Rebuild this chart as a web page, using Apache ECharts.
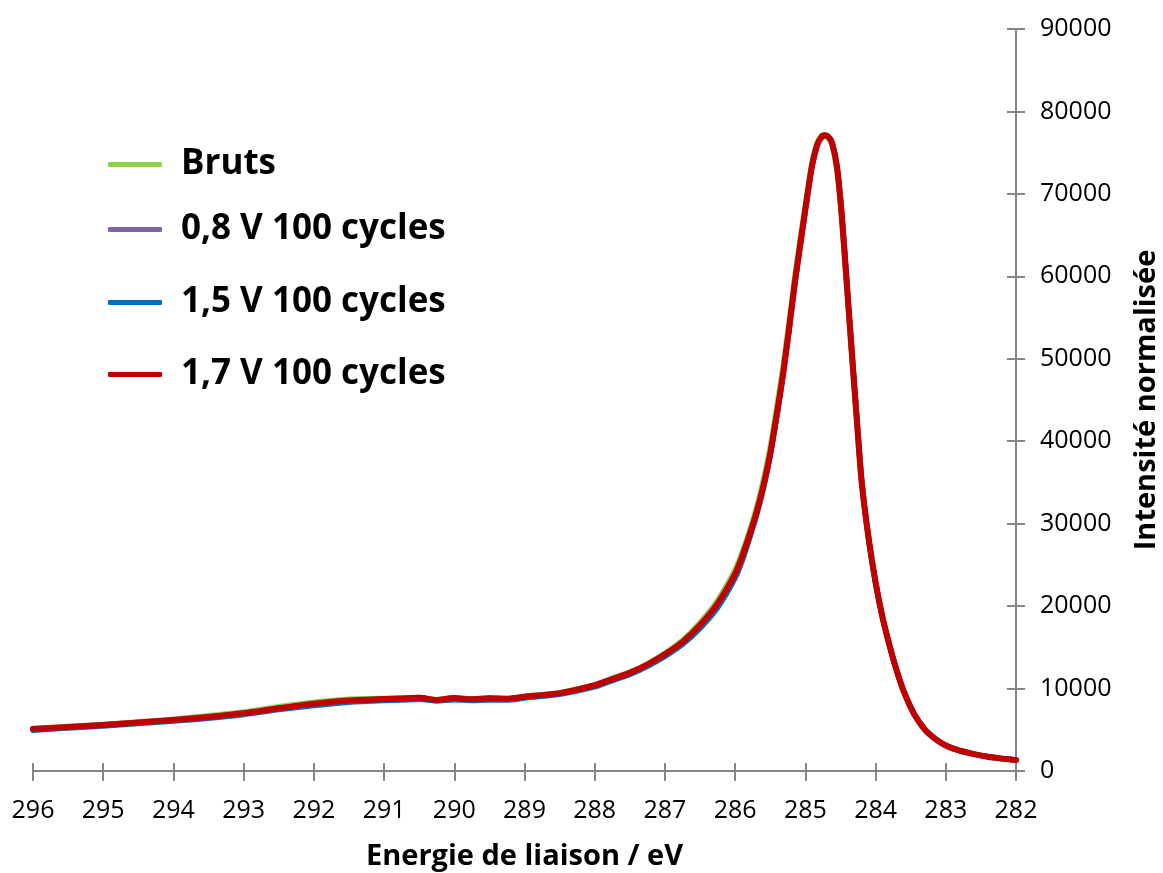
<!DOCTYPE html>
<html>
<head>
<meta charset="utf-8">
<script src="https://cdn.jsdelivr.net/npm/echarts@6/dist/echarts.min.js"></script>
<style>
  html, body { margin: 0; padding: 0; background: #ffffff; }
  #chart { width: 1163px; height: 873px; }
</style>
</head>
<body>
<div id="chart"></div>
<script>
// C 1s spectra: binding energy (eV) and normalised intensity for each sample
const energies = [296, 295.5, 295, 294.5, 294, 293.5, 293, 292.5, 292, 291.5, 291, 290.75, 290.5, 290.25, 290,
  289.75, 289.5, 289.25, 289, 288.5, 288, 287.75, 287.5, 287.25, 287, 286.75, 286.5, 286.25, 286, 285.9, 285.8,
  285.7, 285.6, 285.5, 285.4, 285.32, 285.24, 285.15, 285.05, 284.98, 284.91, 284.83, 284.76, 284.72, 284.67,
  284.62, 284.55, 284.48, 284.41, 284.34, 284.27, 284.2, 284.1, 284.0, 283.9, 283.8, 283.7, 283.6, 283.45, 283.3,
  283.15, 283.0, 282.8, 282.6, 282.4, 282.2, 282.0];

const brutsValues = [5150, 5400, 5650, 5950, 6280, 6700, 7150, 7800, 8350, 8700, 8800, 8850, 8900, 8650, 8880,
  8720, 8840, 8780, 9050, 9500, 10450, 11250, 12000, 13000, 14300, 15850, 18000, 20700, 24400, 26500, 29000,
  31800, 35200, 39300, 44500, 48900, 54000, 60000, 65900, 69800, 73600, 76200, 77100, 77100, 76700, 75900, 72800,
  66600, 58400, 50300, 42400, 34800, 28000, 22700, 18500, 15150, 12200, 9700, 6900, 5050, 3900, 3100, 2470, 2060,
  1730, 1510, 1340];

const v08Values = [5100, 5330, 5580, 5870, 6190, 6550, 7000, 7600, 8150, 8550, 8730, 8800, 8860, 8620, 8840,
  8700, 8820, 8750, 9000, 9430, 10380, 11130, 11880, 12880, 14130, 15620, 17650, 20250, 23850, 25950, 28450,
  31150, 34450, 38450, 43550, 47950, 53050, 59150, 65150, 69250, 73150, 76000, 77050, 77150, 76950, 76250, 73350,
  67350, 59250, 51050, 43050, 35350, 28300, 22900, 18600, 15200, 12200, 9700, 6900, 5050, 3900, 3100, 2460, 2050,
  1720, 1500, 1330];

const v15Values = [4950, 5200, 5450, 5750, 6050, 6400, 6850, 7450, 7950, 8350, 8550, 8600, 8700, 8500, 8650,
  8550, 8600, 8600, 8850, 9300, 10200, 10950, 11700, 12700, 13900, 15350, 17300, 19800, 23400, 25500, 28100,
  30900, 34200, 38300, 43400, 47900, 53000, 59100, 65100, 69200, 73100, 75900, 76900, 77000, 76900, 76200, 73400,
  67400, 59300, 51100, 43100, 35400, 28300, 22900, 18600, 15200, 12200, 9700, 6900, 5050, 3900, 3100, 2460, 2050,
  1720, 1500, 1330];

const v17Values = [5100, 5330, 5580, 5870, 6190, 6550, 7000, 7600, 8150, 8550, 8730, 8800, 8880, 8620, 8850,
  8700, 8820, 8760, 9010, 9450, 10400, 11150, 11900, 12900, 14150, 15650, 17700, 20300, 23900, 26000, 28500,
  31200, 34500, 38500, 43600, 48000, 53100, 59200, 65200, 69300, 73200, 76000, 77000, 77100, 76900, 76200, 73300,
  67300, 59200, 51000, 43000, 35300, 28300, 22900, 18600, 15200, 12200, 9700, 6900, 5050, 3900, 3100, 2460, 2050,
  1720, 1500, 1330];

const xTicks = { min: 282, max: 296, step: 1 };
const yTicks = { min: 0, max: 90000, step: 10000 };

const seriesDefs = [
  { name: 'Bruts', values: brutsValues, color: '#92D050', width: 5.5 },
  { name: '0,8 V 100 cycles', values: v08Values, color: '#8064A2', width: 5.5 },
  { name: '1,5 V 100 cycles', values: v15Values, color: '#0070C0', width: 5.5 },
  { name: '1,7 V 100 cycles', values: v17Values, color: '#C00000', width: 6 }
];

const legendCenters = [162, 227, 300, 372];

const axisGrey = '#868686';
const fontFamily = '"Open Sans", "Liberation Sans", sans-serif';

const chart = echarts.init(document.getElementById('chart'), null, { renderer: 'canvas' });

const xBase = {
  type: 'value',
  min: xTicks.min,
  max: xTicks.max,
  interval: xTicks.step,
  inverse: true,
  position: 'bottom',
  splitLine: { show: false }
};
const yBase = {
  type: 'value',
  min: yTicks.min,
  max: yTicks.max,
  interval: yTicks.step,
  position: 'right',
  splitLine: { show: false }
};

const option = {
  animation: false,
  backgroundColor: '#ffffff',
  grid: { left: 33, right: 147, top: 29, bottom: 102, containLabel: false, outerBoundsMode: 'none' },
  legend: seriesDefs.map((s, i) => ({
    data: [s.name],
    left: 103,
    top: legendCenters[i] - 20,
    icon: 'roundRect',
    itemWidth: 54,
    itemHeight: 5,
    selectedMode: false,
    textStyle: { fontFamily, fontSize: 35, fontWeight: 'bold', color: '#000', padding: [0, 0, 0, 14] }
  })),
  xAxis: [
    Object.assign({}, xBase, {
      name: 'Energie de liaison / eV',
      nameLocation: 'middle',
      nameGap: 71,
      nameTextStyle: { fontFamily, fontSize: 29, fontWeight: 'bold', color: '#000' },
      axisLine: { show: true, onZero: false, lineStyle: { color: axisGrey, width: 2 } },
      axisTick: { show: true, inside: false, length: 10, lineStyle: { color: axisGrey, width: 2 } },
      axisLabel: { fontFamily, fontSize: 25, color: '#000', margin: 27 }
    }),
    Object.assign({}, xBase, {
      axisLine: { show: false, onZero: false },
      axisTick: { show: true, inside: true, length: 8, lineStyle: { color: axisGrey, width: 2 } },
      axisLabel: { show: false }
    })
  ],
  yAxis: [
    Object.assign({}, yBase, {
      name: 'Intensité normalisée',
      nameLocation: 'middle',
      nameRotate: 90,
      nameGap: 116,
      nameTextStyle: { fontFamily, fontSize: 29, fontWeight: 'bold', color: '#000' },
      axisLine: { show: true, onZero: false, lineStyle: { color: axisGrey, width: 2 } },
      axisTick: { show: true, inside: false, length: 9, lineStyle: { color: axisGrey, width: 2 } },
      axisLabel: { fontFamily, fontSize: 25, color: '#000', margin: 24, formatter: (v) => String(v) }
    }),
    Object.assign({}, yBase, {
      axisLine: { show: false, onZero: false },
      axisTick: { show: true, inside: true, length: 9, lineStyle: { color: axisGrey, width: 2 } },
      axisLabel: { show: false }
    })
  ],
  series: seriesDefs.map((s, i) => ({
    name: s.name,
    type: 'line',
    xAxisIndex: 0,
    yAxisIndex: 0,
    data: energies.map((e, k) => [e, s.values[k]]),
    showSymbol: false,
    smooth: 0.2,
    z: 2 + i,
    itemStyle: { color: s.color },
    lineStyle: { color: s.color, width: s.width, cap: 'round', join: 'round' }
  }))
};

chart.setOption(option);
</script>
</body>
</html>
